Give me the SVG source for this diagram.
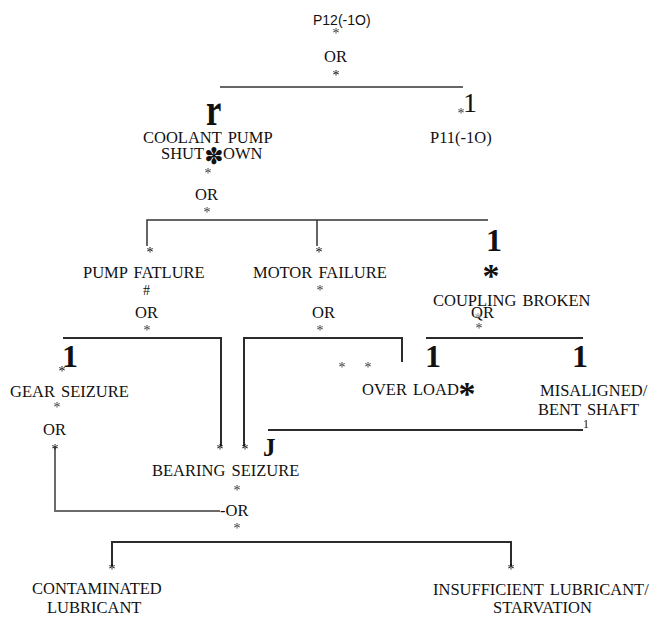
<svg xmlns="http://www.w3.org/2000/svg" width="649" height="617" viewBox="0 0 649 617">
  <defs>
    <!-- light softening used for the small asterisk marks -->
    <filter id="soft" x="-50%" y="-50%" width="200%" height="200%">
      <feGaussianBlur stdDeviation="0.35"/>
    </filter>
  </defs>
  <style>
    .lbl { font-family: "Liberation Serif", "Times New Roman", serif; font-size: 16.5px; fill: #111; word-spacing: 2px; }
    .sans { font-family: "Liberation Sans", Arial, sans-serif; font-size: 14px; fill: #111; }
    .st { font-family: "Liberation Serif", serif; font-size: 14px; fill: #333; text-anchor: middle; filter: url(#soft); }
    .dk { fill: #000; }
    .lt { fill: #888; }
    .big { font-family: "Liberation Serif", serif; font-weight: bold; fill: #111; }
    .heavy { font-family: "Liberation Serif", serif; font-weight: bold; font-size: 34px; fill: #111; text-anchor: middle; }
    .ln { stroke: #2b2b2b; stroke-width: 2; fill: none; }
    .ln-thin { stroke: #333; stroke-width: 1.5; fill: none; }
    .ln-grey { stroke: #6a6a6a; stroke-width: 2; fill: none; }
  </style>

  <rect width="649" height="617" fill="#ffffff"/>

  <!-- connectors -->
  <g id="connectors">
    <path class="ln-thin" d="M220 87 H463"/>
    <path class="ln-thin" d="M147 246 V220 H488 M317 220 V246"/>
    <path class="ln" d="M63 338 H221 V446"/>
    <path class="ln" d="M244 446 V338 H402 V362"/>
    <path class="ln" d="M426 338 H583"/>
    <path class="ln" d="M268 430 H583"/>
    <path class="ln-grey" d="M55 447 V511 H220"/>
    <path class="ln" d="M112 566 V542 H511 V566"/>
  </g>

  <!-- top event -->
  <g id="p12">
    <text class="sans" x="313" y="25">P12(-1O)</text>
    <text class="st" x="336" y="37.5">*</text>
    <text class="lbl" x="324" y="62">OR</text>
    <text class="st dk" x="336" y="79.5">*</text>
  </g>

  <g id="p11">
    <text class="st" x="461" y="117.5">*</text>
    <text class="lbl" x="463" y="112" style="font-size:28px">1</text>
    <text class="lbl" x="430" y="143">P11(-1O)</text>
  </g>

  <g id="coolant-pump-shutdown">
    <text class="big" font-size="46" transform="translate(206 125) scale(0.75 1)">r</text>
    <text class="lbl" x="143" y="143">COOLANT PUMP</text>
    <text class="lbl" x="161" y="159">SHUT</text>
    <text x="214" y="164" font-family="DejaVu Sans, sans-serif" font-size="23" fill="#111" text-anchor="middle">✽</text>
    <text class="lbl" x="223" y="159">OWN</text>
    <text class="st" x="208" y="177.5">*</text>
    <text class="lbl" x="195" y="200">OR</text>
    <text class="st" x="207" y="216.5">*</text>
  </g>

  <g id="pump-failure">
    <text class="st dk" x="150" y="256.5">*</text>
    <text class="lbl" x="83" y="278">PUMP FATLURE</text>
    <text class="lbl" x="143" y="295" style="font-size:14px">#</text>
    <text class="lbl" x="135" y="318">OR</text>
    <text class="st" x="147" y="334.5">*</text>
  </g>

  <g id="motor-failure">
    <text class="st dk" x="319" y="256.5">*</text>
    <text class="lbl" x="253" y="278">MOTOR FAILURE</text>
    <text class="st" x="320" y="294.5">*</text>
    <text class="lbl" x="312" y="318">OR</text>
    <text class="st" x="320" y="334.5">*</text>
  </g>

  <g id="coupling-broken">
    <text class="big" x="486" y="251" font-size="32">1</text>
    <text class="heavy" x="491" y="287">*</text>
    <text class="lbl" x="433" y="306">COUPLING BROKEN</text>
    <text class="lbl" x="471" y="318">QR</text>
    <text class="st lt" x="478" y="322.5">*</text>
    <text class="st" x="479" y="332.5">*</text>
  </g>

  <g id="gear-seizure">
    <text class="big" x="62" y="367" font-size="32">1</text>
    <text class="st dk" x="62" y="375.5">*</text>
    <text class="lbl" x="10" y="397">GEAR SEIZURE</text>
    <text class="st" x="57" y="411.5">*</text>
    <text class="lbl" x="43" y="435">OR</text>
    <text class="st dk" x="55" y="453.5">*</text>
  </g>

  <g id="over-load">
    <text class="st" x="342" y="371.5">*</text>
    <text class="st" x="368" y="371.5">*</text>
    <text class="big" x="425" y="367" font-size="32">1</text>
    <text class="lbl" x="362" y="395">OVER LOAD</text>
    <text class="heavy" x="467" y="405">*</text>
  </g>

  <g id="misaligned-shaft">
    <text class="big" x="572" y="367" font-size="32">1</text>
    <text class="lbl" x="540" y="396">MISALIGNED/</text>
    <text class="lbl" x="538" y="415">BENT SHAFT</text>
    <text class="lbl" x="583" y="428" style="font-size:12px; filter:url(#soft)">1</text>
  </g>

  <g id="bearing-seizure">
    <text class="st dk" x="220" y="453.5">*</text>
    <text class="st dk" x="245" y="453.5">*</text>
    <text class="big" x="263" y="456" font-size="25">J</text>
    <text class="lbl" x="152" y="476">BEARING SEIZURE</text>
    <text class="st" x="237" y="494.5">*</text>
    <text class="lbl" x="220" y="516">-OR</text>
    <text class="st" x="237" y="532.5">*</text>
  </g>

  <g id="contaminated-lubricant">
    <text class="st dk" x="112" y="573.5">*</text>
    <text class="lbl" x="32" y="594">CONTAMINATED</text>
    <text class="lbl" x="47" y="613">LUBRICANT</text>
  </g>

  <g id="insufficient-lubricant">
    <text class="st dk" x="511" y="573.5">*</text>
    <text class="lbl" x="433" y="595">INSUFFICIENT LUBRICANT/</text>
    <text class="lbl" x="493" y="613">STARVATION</text>
  </g>
</svg>
